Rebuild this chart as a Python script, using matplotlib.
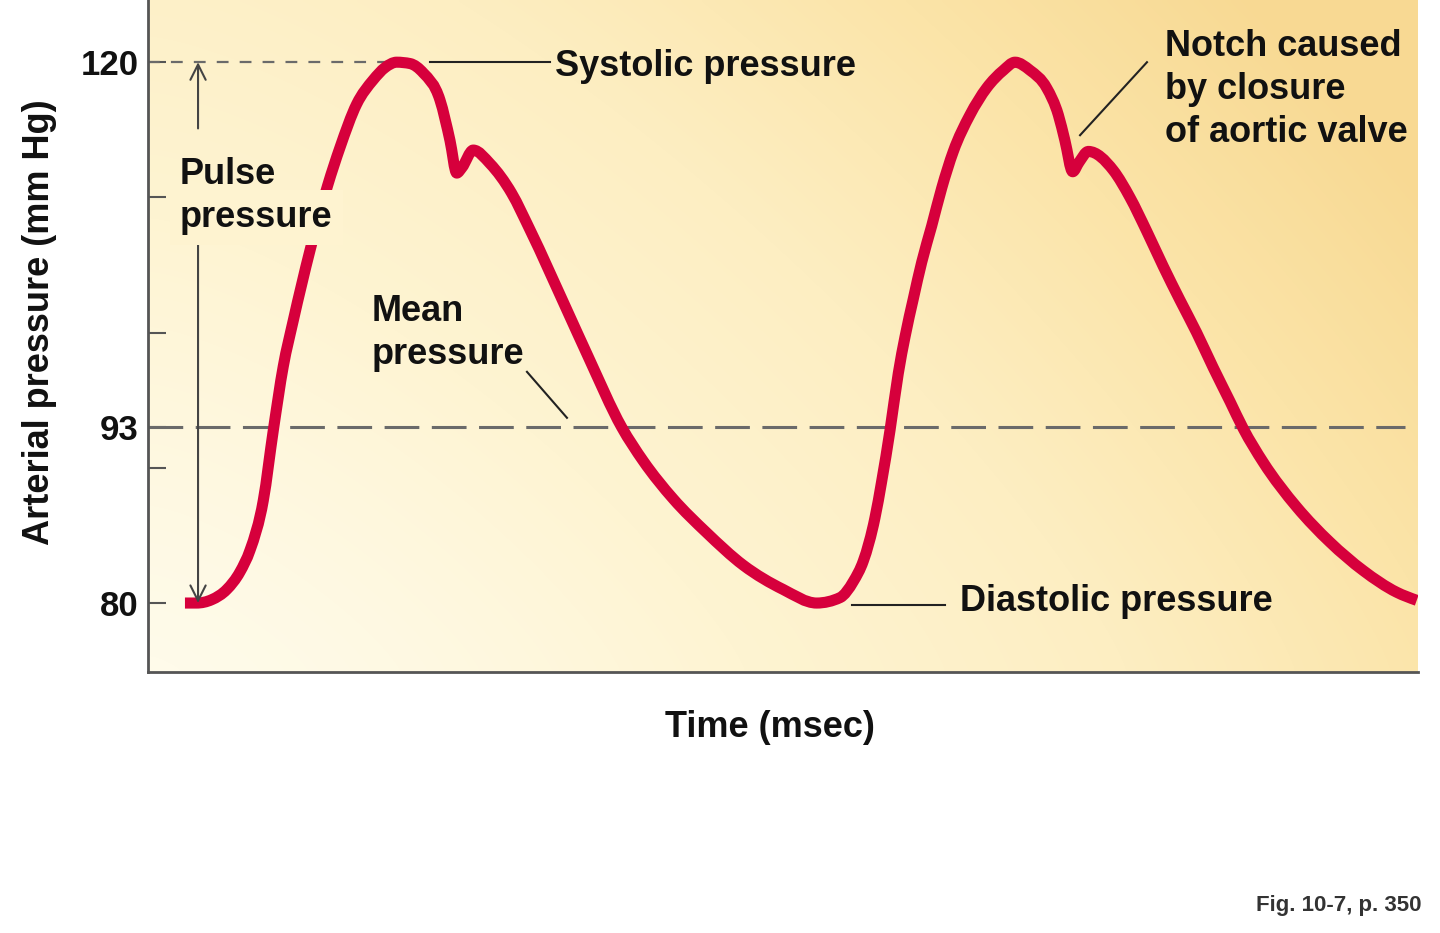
import numpy as np
import matplotlib
matplotlib.use("Agg")
import matplotlib.pyplot as plt
from matplotlib.colors import LinearSegmentedColormap
from matplotlib.path import Path
from matplotlib.patches import PathPatch

plt.rcParams['font.family'] = ['Liberation Sans', 'DejaVu Sans']
plt.rcParams['lines.scale_dashes'] = False

# ---- data ----
time_ms = [29.1, 38.3, 50.2, 62.0, 72.4, 80.3, 90.8, 98.7, 106.5, 114.4, 127.6,
           141.5, 151.2, 164.3, 177.4, 186.6, 195.8, 206.3, 216.8, 229.9, 237.8, 243.1,
           247.2, 256.1, 269.3, 286.4, 300.8, 329.7, 346.7, 373.0, 390.0, 413.6, 439.9,
           468.7, 500.2, 526.5,
           544.9, 555.4, 563.2, 572.4, 577.7, 584.3, 590.8, 596.1, 602.6, 609.2, 617.1,
           625.0, 634.1, 647.2, 660.4, 673.5, 682.7, 694.5, 707.6, 716.8, 722.0, 728.1,
           733.1, 740.4, 760.1, 773.2, 786.4, 799.4, 812.6, 825.7, 838.8, 852.0, 862.4,
           878.2, 904.5, 930.7, 956.9, 983.2, 999.0]
pressure = [80.0, 80.0, 80.25, 81.0, 82.3, 83.9, 87.6, 92.8, 97.5, 100.9, 106.1,
            110.9, 113.7, 116.9, 118.7, 119.6, 120.0, 119.9, 119.2, 117.2, 114.2, 111.8,
            112.2, 113.5, 112.5, 110.3, 107.6, 101.7, 98.2, 93.0, 90.5, 87.7, 85.2,
            82.8, 81.0, 80.0,
            80.4, 81.6, 83.1, 86.3, 89.0, 92.8, 97.0, 99.7, 102.5, 105.2, 107.9,
            110.7, 113.4, 116.1, 118.1, 119.4, 120.0, 119.4, 118.1, 116.1, 114.2, 111.9,
            112.6, 113.4, 112.0, 110.0, 107.5, 104.9, 102.4, 100.0, 97.4, 94.9, 92.9,
            90.4, 87.1, 84.5, 82.4, 80.8, 80.2]

systolic = 120
mean_p = 93
diastolic = 80
ytick_values = [80, 90, 93, 100, 110, 120]
ytick_labels = ['80', '', '93', '', '', '120']


def monotone_curve_path(xs, ys):
    """Smooth (monotone-x cubic) rendering of a polyline, as a Bezier path."""
    x = np.asarray(xs, float)
    y = np.asarray(ys, float)
    h = np.diff(x)
    sec = np.diff(y) / h
    n = len(x)
    m = np.zeros(n)
    for i in range(1, n - 1):
        s0, s1 = sec[i - 1], sec[i]
        if s0 * s1 <= 0:
            m[i] = 0.0
        else:
            p = (s0 * h[i] + s1 * h[i - 1]) / (h[i - 1] + h[i])
            m[i] = (np.sign(s0) + np.sign(s1)) * min(abs(s0), abs(s1), 0.5 * abs(p))
    m[0] = (3 * sec[0] - m[1]) / 2
    m[-1] = (3 * sec[-1] - m[-2]) / 2
    verts = [(x[0], y[0])]
    codes = [Path.MOVETO]
    for i in range(n - 1):
        d = h[i] / 3
        verts += [(x[i] + d, y[i] + m[i] * d), (x[i + 1] - d, y[i + 1] - m[i + 1] * d),
                  (x[i + 1], y[i + 1])]
        codes += [Path.CURVE4] * 3
    return Path(verts, codes)


# ---- figure ----
W, H = 1440, 933
fig = plt.figure(figsize=(W / 100, H / 100), dpi=100)
fig.patch.set_facecolor('white')
ax = fig.add_axes([148 / W, (H - 672) / H, 1270 / W, 672 / H])

# background gradient
cmap = LinearSegmentedColormap.from_list(
    'bg', ['#fffbea', '#fef4d2', '#fdeec2', '#fbe4a8', '#f8d993'])
ny, nx = 200, 400
u = np.linspace(0, 1, nx)[None, :]
v = np.linspace(0, 1, ny)[:, None]
s = np.clip(0.72 * u ** 1.4 + 0.40 * v ** 1.2, 0, 1)
ax.imshow(s, cmap=cmap, vmin=0, vmax=1, origin='lower', extent=[0, 1, 0, 1],
          transform=ax.transAxes, aspect='auto', zorder=0, interpolation='bilinear')
ax.set_xlim(0, 1000)
ax.set_ylim(74.9, 124.6)

# reference lines
ln1, = ax.plot([0, 198], [systolic, systolic], color='#6a6a6a', lw=1.6, zorder=2)
ln1.set_dashes([8.5, 8.0])
ln2, = ax.plot([0, 990], [mean_p, mean_p], color='#6a6a6a', lw=2.2, zorder=2)
ln2.set_dashes([25, 9])

# pressure curve (smooth line through the read points)
curve = PathPatch(monotone_curve_path(time_ms, pressure), fill=False,
                  edgecolor='#d6003c', lw=8, joinstyle='round', capstyle='butt',
                  transform=ax.transData, zorder=3)
ax.add_patch(curve)

# pulse pressure arrows
arr = dict(arrowstyle='->,head_length=1.1,head_width=0.55', color='#444444',
           lw=1.5, shrinkA=0, shrinkB=0)
ax.annotate('', xy=(39.4, systolic), xytext=(39.4, 115.1), arrowprops=arr, zorder=4)
ax.annotate('', xy=(39.4, diastolic), xytext=(39.4, 106.5), arrowprops=arr, zorder=4)

tfont = dict(fontsize=26, fontweight='bold', color='#111111')
bgc = cmap(0.72 * ((262 - 148) / 1270) ** 1.4 + 0.40 * ((672 - 215) / 672) ** 1.2)
ax.text(25.2, 110.98, 'Pulse', ha='left', va='baseline', zorder=5, **tfont)
ax.text(25.2, 107.8, 'pressure', ha='left', va='baseline', zorder=5,
        bbox=dict(boxstyle='square,pad=0.28', fc=bgc, ec='none'), **tfont)

# systolic label
ax.plot([222, 316.5], [120, 120], color='#222222', lw=1.5, zorder=4)
ax.text(320.5, 119.7, 'Systolic pressure', ha='left', va='center', zorder=5, **tfont)

# mean label
ax.text(176.4, 99.95, 'Mean\npressure', ha='left', va='center', linespacing=1.3,
        zorder=5, **tfont)
ax.plot([298.4, 329.9], [97.1, 93.7], color='#222222', lw=1.5, zorder=4)

# diastolic label
ax.plot([554.3, 627.6], [79.85, 79.85], color='#222222', lw=1.5, zorder=4)
ax.text(639.4, 80.1, 'Diastolic pressure', ha='left', va='center', zorder=5, **tfont)

# notch label
ax.text(800.8, 118.0, 'Notch caused\nby closure\nof aortic valve', ha='left',
        va='center', linespacing=1.29, zorder=5, **tfont)
ax.plot([786.6, 733.9], [120.0, 114.6], color='#222222', lw=1.5, zorder=4)

# axes styling
for side in ['top', 'right']:
    ax.spines[side].set_visible(False)
for side in ['left', 'bottom']:
    ax.spines[side].set_color('#555555')
    ax.spines[side].set_linewidth(2.0)
    ax.spines[side].set_zorder(6)
ax.set_xticks([])
ax.set_yticks(ytick_values)
ax.set_yticklabels(ytick_labels)
ax.tick_params(axis='y', direction='in', length=13, width=1.5, color='#555555',
               pad=7, labelsize=25)
for lbl in ax.get_yticklabels():
    lbl.set_fontweight('bold')
    lbl.set_color('#111111')

ax.set_xlabel('Time (msec)', fontsize=26, fontweight='bold', color='#111111')
ax.xaxis.set_label_coords((770 - 148) / 1270, -(710 - 672) / 672)
ax.set_ylabel('Arterial pressure (mm Hg)', fontsize=26, fontweight='bold', color='#111111')
ax.yaxis.set_label_coords(-(148 - 57) / 1270, (672 - 322) / 672)

fig.text(1422 / W, 1 - 905 / H, 'Fig. 10-7, p. 350', ha='right', va='center',
         fontsize=16, fontweight='bold', color='#333333')

fig.savefig('out.png', dpi=100, facecolor='white')
